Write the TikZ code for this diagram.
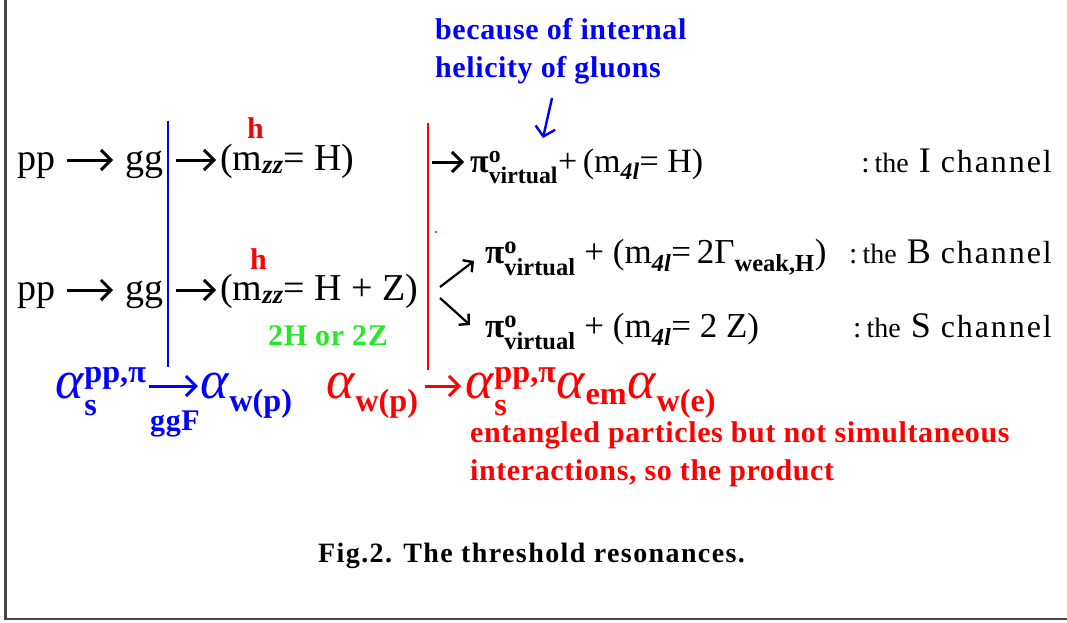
\documentclass[tikz,border=0pt]{standalone}
\usepackage{amsmath}
\usepackage{fontspec}
\setmainfont{Liberation Serif}
\newfontfamily\capfont[LetterSpace=5]{Liberation Serif}
\newfontfamily\notefont[LetterSpace=2]{Liberation Serif}
\newfontfamily\chfont[LetterSpace=6]{Liberation Serif}
\usetikzlibrary{arrows.meta}
\definecolor{cblue}{RGB}{0,0,255}
\definecolor{cred}{RGB}{255,0,0}
\definecolor{cgreen}{RGB}{40,230,40}
\definecolor{framec}{RGB}{70,70,70}
\newcommand{\fs}[1]{\fontsize{#1}{#1}\selectfont}
\newcommand{\piv}{\textbf{π}$^{\textbf{o}}_{\textbf{virtual}}$}
\newcommand{\ml}{m$_{\textbf{\textit{4l}}}$}
\newcommand{\mz}{m$_{\textbf{\textit{zz}}}$}
\newcommand{\alf}{{\fs{54}\textit{α}}}
\newcommand{\alfs}{\alf$^{\textbf{pp,π}}_{\textbf{s}\vphantom{\textbf{hh}}}$}
\newcommand{\chan}[1]{:\,{\fs{28}the}\hspace{10pt}{\fs{36}#1}\hspace{10pt}{\chfont\fs{32}channel}}
\tikzset{
  txt/.style={inner sep=0pt, anchor=base west, font=\fs{38}},
  pitxt/.style={inner sep=0pt, anchor=base west, font=\fs{35}},
  chan/.style={inner sep=0pt, anchor=base east, font=\fs{30}},
  bnote/.style={inner sep=0pt, anchor=base west, font=\notefont\fs{30}\bfseries},
  alf/.style={inner sep=0pt, anchor=base west, font=\fs{46}},
  arr/.style={-{Straight Barb[length=10pt,width=20pt,line width=3pt]}, line width=3pt},
  barr/.style={-{Straight Barb[length=7pt,width=15pt,line width=2.4pt]}, line width=2.2pt},
  sep/.style={line width=1.6pt},
}
\begin{document}
\begin{tikzpicture}[x=1pt,y=-1pt]
\useasboundingbox (0,0) rectangle (1067,623);
\draw[framec, line width=2.2pt] (5.5,0) coordinate (f1) -- (5.5,619) coordinate (f2) -- (1067,619) coordinate (f3);

% top blue note
\node[bnote, text=cblue] (n1) at (435,40) {because of internal};
\node[bnote, text=cblue] (n2) at (435,78) {helicity of gluons};
\coordinate (hs) at (552,98);
\coordinate (he) at (543,138);
\draw[cblue, line width=2.4pt, -{Straight Barb[length=9pt,width=20pt,line width=2.4pt]}] (hs) -- (he);

% separators
\coordinate (bt) at (168,121); \coordinate (bb) at (168,367);
\draw[sep, cblue] (bt) -- (bb);
\coordinate (rt) at (428,123); \coordinate (rb) at (428,370);
\draw[sep, cred] (rt) -- (rb);
\fill[cred] (436,232) circle (1.2);

% row 1
\node[txt] (pp1) at (17,170) {pp};
\node[txt] (gg1) at (125,170) {gg};
\draw[arr] ([xshift=12pt,yshift=10pt]pp1.base east) -- ([xshift=-12pt,yshift=10pt]gg1.base west);
\node[txt] (mz1) at (220,170) {(\mz= H)};
\draw[arr] ([xshift=13pt,yshift=10pt]gg1.base east) -- ([xshift=-4pt,yshift=10pt]mz1.base west);
\node[bnote, text=cred] (h1) at (247,139) {h};
\node[pitxt, font=\fs{34}] (pi1) at (470,172) {\piv{}+\,(\ml= H)};
\draw[arr] ([xshift=-38pt,yshift=10pt]pi1.base west) -- ([xshift=-6pt,yshift=10pt]pi1.base west);
\node[chan] (ch1) at (1052,172) {\chan{I}};

% row 2
\node[txt] (pp2) at (17,300) {pp};
\node[txt] (gg2) at (125,300) {gg};
\draw[arr] ([xshift=12pt,yshift=10pt]pp2.base east) -- ([xshift=-12pt,yshift=10pt]gg2.base west);
\node[txt] (mz2) at (220,300) {(\mz= H + Z)};
\draw[arr] ([xshift=13pt,yshift=10pt]gg2.base east) -- ([xshift=-4pt,yshift=10pt]mz2.base west);
\node[bnote, text=cred] (h2) at (250,269) {h};
\node[bnote, text=cgreen] (g2) at (268,345) {2H or 2Z};
\node[pitxt] (pi2) at (485,263) {\piv\ + (\ml=\,2Γ$_{\textbf{weak,H}}$)};
\node[chan] (ch2) at (1052,263) {\chan{B}};
\node[pitxt] (pi3) at (485,337) {\piv\ + (\ml= 2\ Z)};
\node[chan] (ch3) at (1052,337) {\chan{S}};
\coordinate (bu0) at (440,287); \coordinate (bu1) at (474,261);
\coordinate (bd0) at (440,298); \coordinate (bd1) at (470,325);
\draw[barr] (bu0) -- (bu1);
\draw[barr] (bd0) -- (bd1);

% bottom formulas
\node[alf, text=cblue] (ab1) at (55,398) {\alfs};
\node[alf, text=cblue] (ab2) at (200,398) {\alf$_{\textbf{w(p)}}$};
\draw[arr, cblue] ([xshift=2pt,yshift=12pt]ab1.base east) -- ([xshift=-2pt,yshift=12pt]ab2.base west);
\node[bnote, text=cblue, font=\notefont\fs{30}\bfseries] (ggf) at (150,430) {ggF};
\node[alf, text=cred] (ar1) at (326,398) {\alf$_{\textbf{w(p)}}$};
\node[alf, text=cred] (ar2) at (465,398) {\alfs\alf$_{\textbf{em}}$\alf$_{\textbf{w(e)}}$};
\draw[arr, cred] ([xshift=6pt,yshift=12pt]ar1.base east) -- ([xshift=-4pt,yshift=12pt]ar2.base west);
\node[bnote, text=cred] (rn1) at (470,442) {entangled particles but not simultaneous};
\node[bnote, text=cred] (rn2) at (470,480) {interactions, so the product};

\node[inner sep=0pt, anchor=base west, font=\capfont\fs{28}\bfseries] (cap) at (318,562) {Fig.2. The threshold resonances.};
\end{tikzpicture}
\end{document}
